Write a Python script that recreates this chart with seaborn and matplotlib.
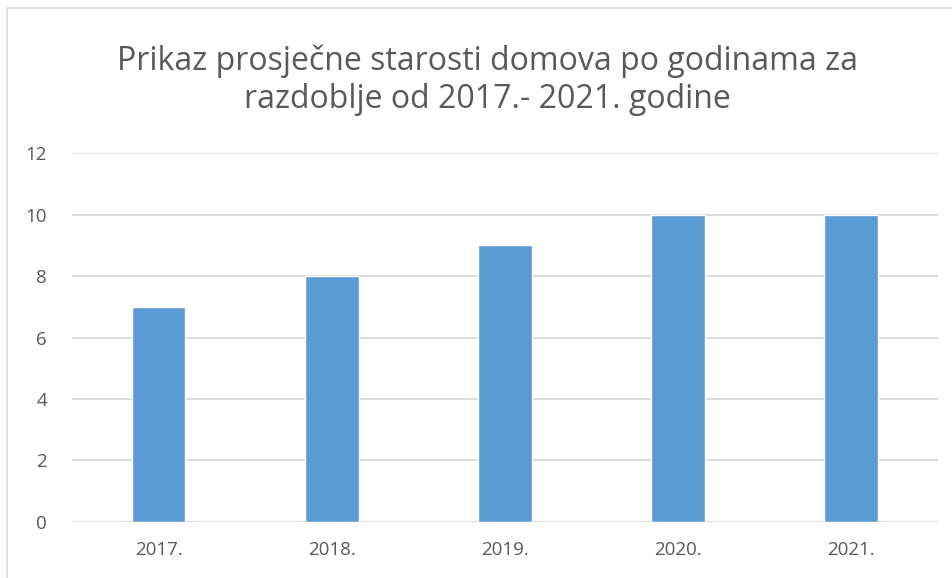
import matplotlib
matplotlib.use("Agg")
import matplotlib.pyplot as plt
import seaborn as sns
import pandas as pd
from matplotlib.lines import Line2D

years = ["2017.", "2018.", "2019.", "2020.", "2021."]
avg_age = [7, 8, 9, 10, 10]
yticks = [0, 2, 4, 6, 8, 10, 12]
title = "Prikaz prosječne starosti domova po godinama za\nrazdoblje od 2017.- 2021. godine"

sns.set_style("white")
plt.rcParams["font.family"] = ["Open Sans", "DejaVu Sans"]

df = pd.DataFrame({"godina": years, "starost": avg_age})

fig = plt.figure(figsize=(9.53, 5.78), dpi=100)
ax = fig.add_axes([0.0756, 0.097, 0.9084, 0.638])

sns.barplot(data=df, x="godina", y="starost", color="#5B9BD5", width=0.31,
            saturation=1, ax=ax, zorder=3)

ax.set_ylim(0, 12)
ax.set_yticks(yticks)
ax.yaxis.grid(True, color="#D9D9D9", linewidth=1.3, zorder=0)
ax.set_axisbelow(True)
for s in ax.spines.values():
    s.set_visible(False)
ax.tick_params(axis="both", length=0, labelsize=13.5, labelcolor="#595959")
ax.tick_params(axis="y", pad=18)
ax.tick_params(axis="x", pad=14)
ax.set_xlabel("")
ax.set_ylabel("")

fig.text(0.5115, 0.862, title, ha="center", va="center", fontsize=23,
         color="#595959", linespacing=1.2)

# chart border (left and top)
fig.add_artist(Line2D([7/953, 7/953], [0, 1 - 8/578], transform=fig.transFigure,
                      color="#D9D9D9", linewidth=1.2))
fig.add_artist(Line2D([7/953, 1], [1 - 8/578, 1 - 8/578], transform=fig.transFigure,
                      color="#D9D9D9", linewidth=1.2))

fig.savefig("out.png", dpi=100)
